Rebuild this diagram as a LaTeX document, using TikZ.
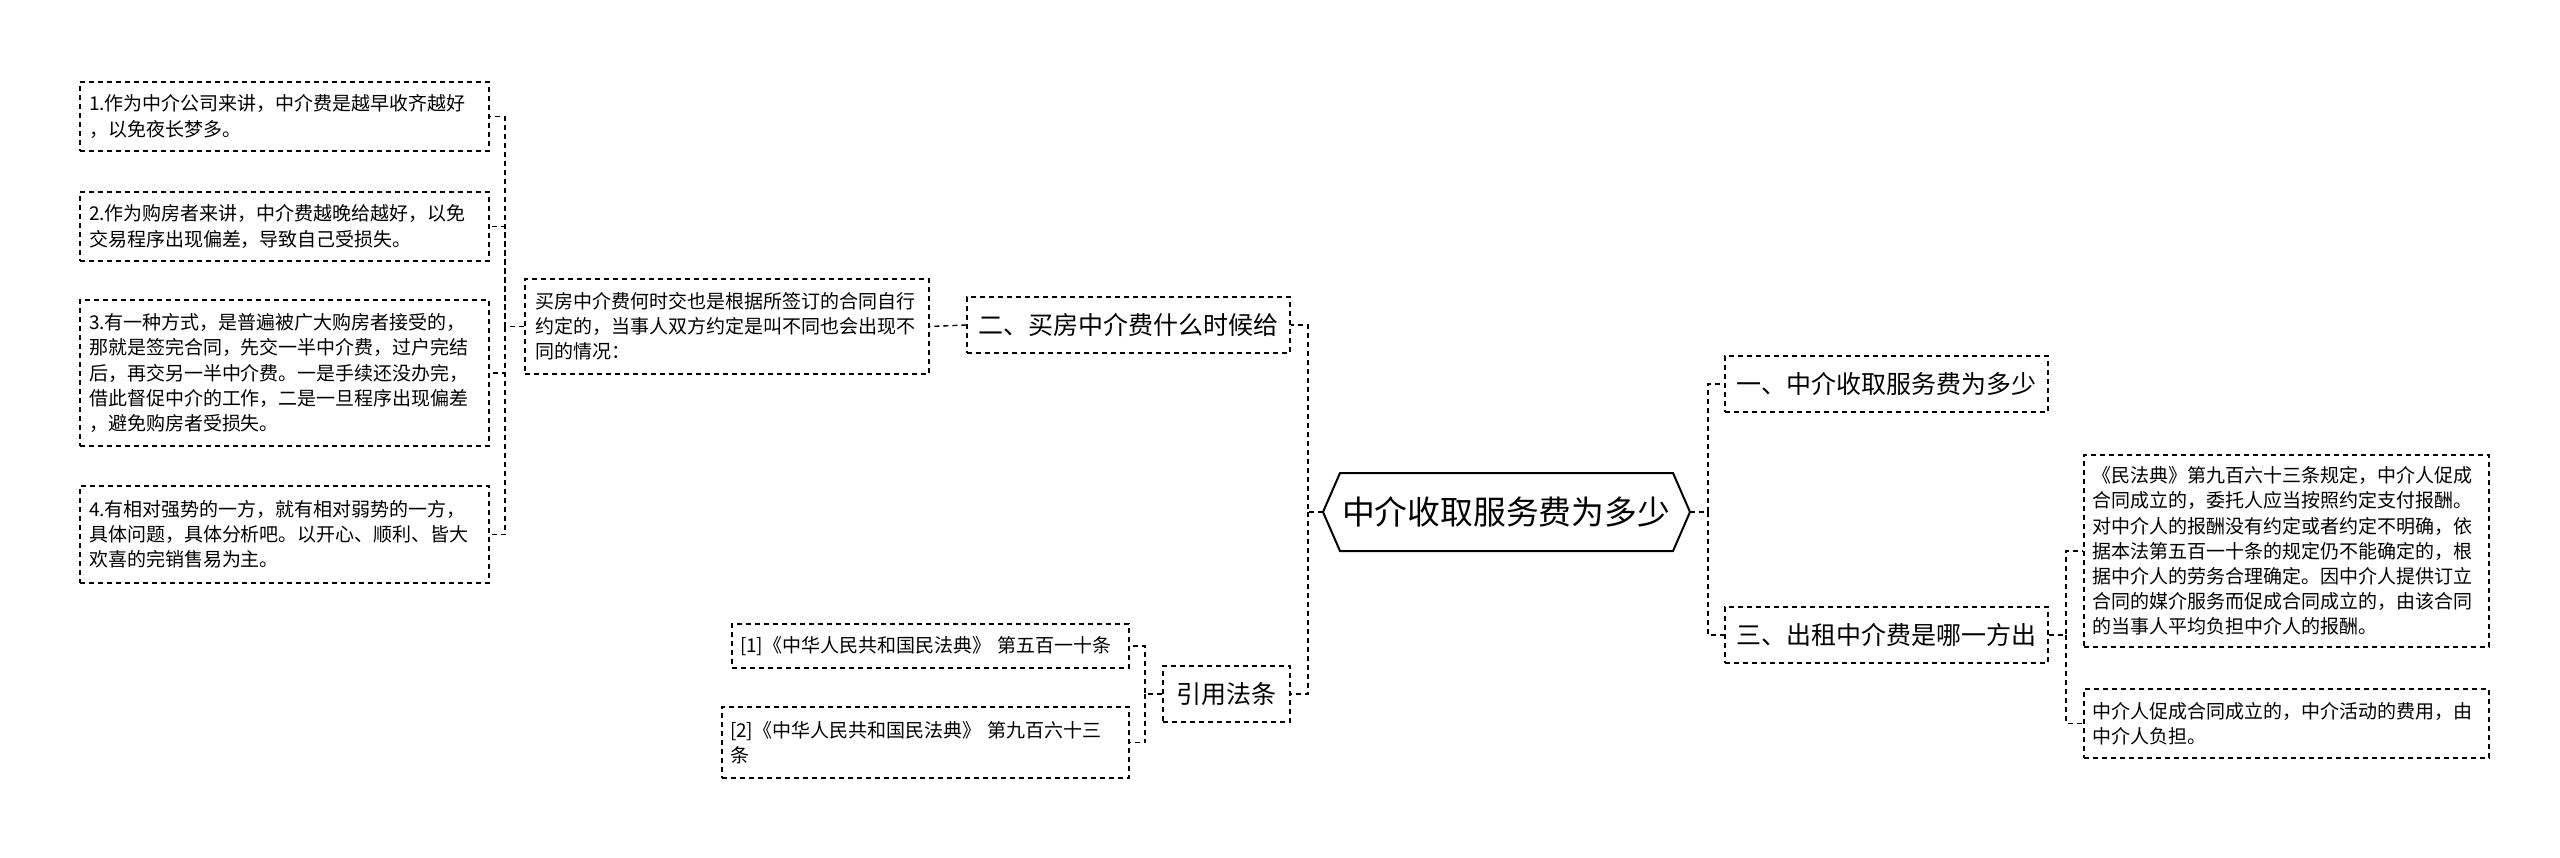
\documentclass[tikz,border=0pt]{standalone}
\usepackage{fontspec}
\setmainfont{Noto Sans CJK SC}
\begin{document}
\begin{tikzpicture}[x=0.5pt,y=-0.5pt,
  box/.style={draw,dashed,dash pattern=on 2.5pt off 2pt,line width=0.7pt,inner sep=0pt,align=left},
  leaf/.style={box,font=\fontsize{9.5}{12.6}\selectfont},
  br/.style={box,font=\fontsize{12.5}{15}\selectfont,align=center},
  con/.style={dashed,dash pattern=on 2.5pt off 2pt,line width=0.7pt}]
\useasboundingbox (0,0) rectangle (2560,857);
% root
\node[font=\fontsize{16.4}{19}\selectfont,minimum width=367*0.5pt,minimum height=78*0.5pt,inner sep=0pt] (root) at (1506,512) {中介收取服务费为多少};
\draw[line width=1pt] (1323,512) -- (1340,473) -- (1673,473) -- (1690,512) -- (1673,551) -- (1340,551) -- cycle;
\coordinate (rl) at (1323,512); \coordinate (rr) at (1690,512);
% branches
\node[br,minimum width=323*0.5pt,minimum height=56*0.5pt] (b1) at (1886.5,384) {一、中介收取服务费为多少};
\node[br,minimum width=323*0.5pt,minimum height=56*0.5pt] (b3) at (1886.5,635) {三、出租中介费是哪一方出};
\node[br,minimum width=323*0.5pt,minimum height=56*0.5pt] (b2) at (1128.5,325) {二、买房中介费什么时候给};
\node[br,minimum width=127*0.5pt,minimum height=56*0.5pt] (b4) at (1226.5,694) {引用法条};
% left text
\node[leaf,minimum width=404*0.5pt,minimum height=95*0.5pt,text width=384*0.5pt] (t2) at (727,326.5) {买房中介费何时交也是根据所签订的合同自行\\约定的，当事人双方约定是叫不同也会出现不\\同的情况：};
% left leaves
\node[leaf,minimum width=409*0.5pt,minimum height=69*0.5pt,text width=391*0.5pt] (l1) at (284.5,116.5) {1.作为中介公司来讲，中介费是越早收齐越好\\，以免夜长梦多。};
\node[leaf,minimum width=409*0.5pt,minimum height=69*0.5pt,text width=391*0.5pt] (l2) at (284.5,226.5) {2.作为购房者来讲，中介费越晚给越好，以免\\交易程序出现偏差，导致自己受损失。};
\node[leaf,minimum width=409*0.5pt,minimum height=146*0.5pt,text width=391*0.5pt] (l3) at (284.5,373) {3.有一种方式，是普遍被广大购房者接受的，\\那就是签完合同，先交一半中介费，过户完结\\后，再交另一半中介费。一是手续还没办完，\\借此督促中介的工作，二是一旦程序出现偏差\\，避免购房者受损失。};
\node[leaf,minimum width=409*0.5pt,minimum height=97*0.5pt,text width=391*0.5pt] (l4) at (284.5,534.5) {4.有相对强势的一方，就有相对弱势的一方，\\具体问题，具体分析吧。以开心、顺利、皆大\\欢喜的完销售易为主。};
% right leaves
\node[leaf,minimum width=405*0.5pt,minimum height=192*0.5pt,text width=389*0.5pt] (r1) at (2286.5,551) {《民法典》第九百六十三条规定，中介人促成\\合同成立的，委托人应当按照约定支付报酬。\\对中介人的报酬没有约定或者约定不明确，依\\据本法第五百一十条的规定仍不能确定的，根\\据中介人的劳务合理确定。因中介人提供订立\\合同的媒介服务而促成合同成立的，由该合同\\的当事人平均负担中介人的报酬。};
\node[leaf,minimum width=405*0.5pt,minimum height=69*0.5pt,text width=389*0.5pt] (r2) at (2286.5,723.5) {中介人促成合同成立的，中介活动的费用，由\\中介人负担。};
% refs
\node[leaf,minimum width=397*0.5pt,minimum height=44*0.5pt,text width=381*0.5pt] (f1) at (930.5,646) {[1]《中华人民共和国民法典》 第五百一十条};
\node[leaf,minimum width=407*0.5pt,minimum height=71*0.5pt,text width=391*0.5pt] (f2) at (925.5,742.5) {[2]《中华人民共和国民法典》 第九百六十三\\条};
% connectors
\draw[con] (rl) -- (1308,512) |- (b2.east);
\draw[con] (1308,512) |- (b4.east);
\draw[con] (rr) -- (1708,512) |- (b1.west);
\draw[con] (1708,512) |- (b3.west);
\draw[con] (b2.west) -- (t2.east);
\draw[con] (t2.west) -- (505,326.5) |- (l1.east);
\draw[con] (505,326.5) |- (l2.east);
\draw[con] (505,326.5) |- (l3.east);
\draw[con] (505,326.5) |- (l4.east);
\draw[con] (b3.east) -- (2066,635) |- (r1.west);
\draw[con] (2066,635) |- (r2.west);
\draw[con] (b4.west) -- (1145,694) |- (f1.east);
\draw[con] (1145,694) |- (f2.east);
\end{tikzpicture}
\end{document}
